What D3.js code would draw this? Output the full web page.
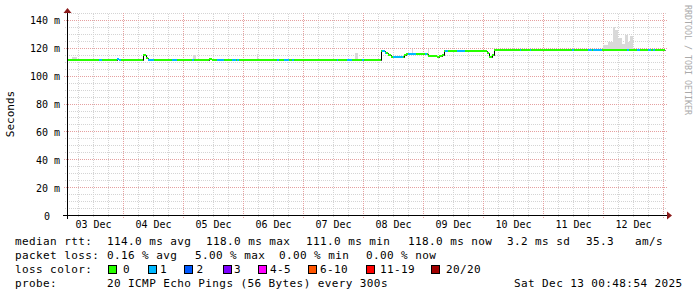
<!DOCTYPE html>
<meta charset="utf-8">
<head>
<script src="https://cdn.jsdelivr.net/npm/d3@7"></script>
<style>
    body { margin: 0; background: #fff; }
    text { font-family: "DejaVu Sans Mono", monospace; fill: #000; }
    .grid-minor { stroke: #d4d4d4; stroke-dasharray: 1,1; }
    .grid-major { stroke: #e5a0a0; stroke-dasharray: 1,1; }
    .axis text { font-size: 10px; font-family: "DejaVu Sans Mono", monospace; }
    .legend text { font-size: 11px; letter-spacing: 0.4px; }
</style>
</head>
<body>
<svg width="697" height="297"></svg>
<script>
// time in hours since 03 Dec 2025 00:00
var timeStart = 1.6, timeEnd = 240.8;

// median rtt (ms) as steps: value i holds from medianTimes[i] to medianTimes[i+1]
var medianTimes = [1.6, 21.6, 22.4, 32, 33.2, 34, 58.4, 59.6, 127.2, 128.8, 130, 131.2, 136.4, 137.2,
                   146, 149.6, 150.4, 151.6, 152.4, 169.2, 169.6, 170.4, 171.6, 172.4, 240.8];
var medianValues = [111, 112, 111, 114.5, 113, 111, 112, 111, 118, 116.3, 115, 113.4, 114.5, 115.6,
                    113.8, 113.2, 113.8, 115, 117.7, 118, 116.3, 113.4, 115, 118.2];

// periods with lost pings (count of lost pings out of 20)
var lossStart = [14.4, 21.6, 34, 43.6, 51.6, 61.6, 67.6, 69.6, 85.6, 88.4, 91.6, 109.6, 113.6, 119.6,
                 127.6, 132, 138, 144.8, 152.8, 157.6, 182.8, 186.8, 203.6, 210, 212, 225.6, 229.6, 234, 236];
var lossEnd   = [15.6, 23.2, 36.4, 45.6, 52.4, 64.4, 69.2, 70.4, 86.4, 90.4, 92.4, 110, 115.6, 120.4,
                 129.2, 136, 141.2, 145.6, 154, 160.8, 183.2, 187.2, 204.4, 211.6, 215.6, 226.4, 230.8, 235.2, 236.8];
var lossCount = [1, 1, 1, 1, 1, 1, 1, 1, 1, 1, 1, 1, 1, 1, 1, 1, 1, 1, 1, 1, 1, 1, 1, 1, 1, 1, 1, 1, 1];

// smoke (spread of the 20 pings), ms
var smokeStart = [3.6, 14.8, 52, 77.6, 116.8, 139.6, 146, 216, 218, 220, 220.8, 222, 223.6, 224.8, 226, 226.8];
var smokeEnd   = [5.6, 15.6, 53.2, 78, 118, 140, 146.4, 218, 220, 220.8, 222, 223.6, 224.8, 226, 226.8, 228];
var smokeLow   = [111, 111, 111, 111, 111, 116, 114, 118, 118, 118, 118, 118, 118, 118, 118, 118];
var smokeHigh  = [113.4, 112.2, 114.5, 115.5, 116.5, 119.5, 119, 122, 124, 135, 133, 127, 122.5, 129, 124, 128.5];

var yTicks = [0, 20, 40, 60, 80, 100, 120, 140];
var yTickLabels = ["0", "20 m", "40 m", "60 m", "80 m", "100 m", "120 m", "140 m"];
var dayNoon = [12, 36, 60, 84, 108, 132, 156, 180, 204, 228];
var dayLabels = ["03 Dec", "04 Dec", "05 Dec", "06 Dec", "07 Dec", "08 Dec", "09 Dec", "10 Dec", "11 Dec", "12 Dec"];

var lossNames = ["0", "1", "2", "3", "4-5", "6-10", "11-19", "20/20"];
var lossColors = ["#26ff00", "#00b8ff", "#0059ff", "#7e00ff", "#ff00ff", "#ff5500", "#ff0000", "#a10000"];

var rttText = ["median rtt:", "114.0 ms avg", "118.0 ms max", "111.0 ms min", "118.0 ms now", "3.2 ms sd", "35.3", "am/s"];
var lossText = ["packet loss:", "0.16 % avg", "5.00 % max", "0.00 % min", "0.00 % now"];
var probeText = ["probe:", "20 ICMP Echo Pings (56 Bytes) every 300s", "Sat Dec 13 00:48:54 2025"];

var svg = d3.select("svg");
var plotLeft = 67, plotRight = 665, plotTop = 13, plotBottom = 215;

var x = d3.scaleLinear().domain([timeStart, timeEnd]).range([plotLeft, plotRight]);
var y = d3.scaleLinear().domain([0, 145]).range([plotBottom, plotTop]);

function px(v) { return Math.round(v) + 0.5; }

// grid
var g = svg.append("g");
d3.range(5, 146, 5).filter(function(v) { return v % 20 != 0; }).forEach(function(v) {
    g.append("line").attr("class", "grid-minor")
        .attr("x1", plotLeft - 2).attr("x2", plotRight + 2).attr("y1", px(y(v))).attr("y2", px(y(v)));
});
d3.range(6, timeEnd, 6).filter(function(h) { return h % 24 != 0 && h > timeStart; }).forEach(function(h) {
    g.append("line").attr("class", "grid-minor")
        .attr("x1", px(x(h))).attr("x2", px(x(h))).attr("y1", plotBottom + 2).attr("y2", plotTop);
});
yTicks.slice(1).forEach(function(v) {
    g.append("line").attr("class", "grid-major")
        .attr("x1", plotLeft - 3).attr("x2", plotRight + 2).attr("y1", px(y(v))).attr("y2", px(y(v)));
});
d3.range(24, timeEnd + 1, 24).forEach(function(h) {
    g.append("line").attr("class", "grid-major")
        .attr("x1", px(x(h))).attr("x2", px(x(h))).attr("y1", plotBottom + 3).attr("y2", plotTop);
});

// smoke
svg.append("g").selectAll("rect")
    .data(smokeStart)
    .enter().append("rect")
    .attr("x", function(d) { return Math.round(x(d)); })
    .attr("width", function(d, i) { return Math.max(1, Math.round(x(smokeEnd[i])) - Math.round(x(d))); })
    .attr("y", function(d, i) { return Math.round(y(smokeHigh[i])); })
    .attr("height", function(d, i) { return Math.round(y(smokeLow[i])) - Math.round(y(smokeHigh[i])); })
    .attr("fill", "#d9d9d9");

// median: black step line, then coloured horizontal pieces by loss
var steps = medianValues.map(function(v, i) { return [medianTimes[i], v]; });
steps.push([timeEnd, medianValues[medianValues.length - 1]]);
svg.append("path")
    .attr("d", d3.line().x(function(d) { return px(x(d[0])); }).y(function(d) { return px(y(d[1])); })
        .curve(d3.curveStepAfter)(steps))
    .attr("fill", "none").attr("stroke", "#000").attr("stroke-width", 1);

function lossIndex(n) {
    if (n <= 3) return n;
    if (n <= 5) return 4;
    if (n <= 10) return 5;
    if (n <= 19) return 6;
    return 7;
}

var pieces = [];
medianValues.forEach(function(v, i) {
    pieces.push({t0: medianTimes[i], t1: medianTimes[i + 1], v: v, c: lossColors[0]});
});
lossStart.forEach(function(s, j) {
    medianValues.forEach(function(v, i) {
        var a = Math.max(s, medianTimes[i]), b = Math.min(lossEnd[j], medianTimes[i + 1]);
        if (b > a) pieces.push({t0: a, t1: b, v: v, c: lossColors[lossIndex(lossCount[j])]});
    });
});
svg.append("g").selectAll("line")
    .data(pieces)
    .enter().append("line")
    .attr("x1", function(d) { return Math.round(x(d.t0)); })
    .attr("x2", function(d) { return Math.max(Math.round(x(d.t1)), Math.round(x(d.t0)) + 1); })
    .attr("y1", function(d) { return Math.round(y(d.v)); })
    .attr("y2", function(d) { return Math.round(y(d.v)); })
    .attr("stroke", function(d) { return d.c; })
    .attr("stroke-width", 2)
    .attr("shape-rendering", "crispEdges");

// axes
var yAxis = svg.append("g")
    .attr("class", "axis")
    .attr("transform", "translate(" + plotLeft + ",0)")
    .call(d3.axisLeft(y).tickValues(yTicks).tickSize(0).tickPadding(7)
        .tickFormat(function(d, i) { return yTickLabels[i]; }));
yAxis.select(".domain").remove();
yAxis.selectAll("text").attr("dy", "0.4em").attr("fill", "#000")
    .filter(function(d) { return d === 0; }).attr("dx", -10);

var xAxis = svg.append("g")
    .attr("class", "axis")
    .attr("transform", "translate(0," + plotBottom + ")")
    .call(d3.axisBottom(x).tickValues(dayNoon).tickSize(0).tickPadding(6)
        .tickFormat(function(d, i) { return dayLabels[i]; }));
xAxis.select(".domain").remove();
xAxis.selectAll("text").attr("fill", "#000");

svg.append("line").attr("x1", 63).attr("x2", 669).attr("y1", plotBottom + 0.5).attr("y2", plotBottom + 0.5)
    .attr("stroke", "#000");
svg.append("line").attr("x1", plotLeft + 0.5).attr("x2", plotLeft + 0.5).attr("y1", plotBottom + 4).attr("y2", 11)
    .attr("stroke", "#000");
svg.append("path").attr("d", "M667,211.5L672,215.5L667,219.5Z").attr("fill", "#8b1a1a");
svg.append("path").attr("d", "M63.5,13L67.5,8L71.5,13Z").attr("fill", "#8b1a1a");

svg.append("text")
    .attr("transform", "translate(14,114) rotate(-90)")
    .attr("text-anchor", "middle")
    .style("font-size", "11px")
    .text("Seconds");

svg.append("text")
    .attr("transform", "translate(685,5) rotate(90)")
    .style("font-size", "8.3px")
    .style("fill", "#aaaaaa")
    .text("RRDTOOL / TOBI OETIKER");

// legend
var legend = svg.append("g").attr("class", "legend");
var rttX = [15, 107, 206, 306, 408, 507, 586, 635];
rttText.forEach(function(t, i) {
    legend.append("text").attr("x", rttX[i]).attr("y", 245).text(t);
});
var lossX = [15, 107, 195, 279, 366];
lossText.forEach(function(t, i) {
    legend.append("text").attr("x", lossX[i]).attr("y", 259).text(t);
});
legend.append("text").attr("x", 15).attr("y", 273).text("loss color:");
var swatchX = [108, 148, 184, 223, 258, 307.5, 365.5, 430.5];
var swatchLabelX = [123, 160, 196.5, 234, 270, 320, 380, 446];
lossNames.forEach(function(n, i) {
    legend.append("rect")
        .attr("x", Math.round(swatchX[i]) + 0.5).attr("y", 265.5)
        .attr("width", 8).attr("height", 8)
        .attr("fill", lossColors[i]).attr("stroke", "#000");
    legend.append("text").attr("x", swatchLabelX[i]).attr("y", 273).text(n);
});
var probeX = [15, 107, 514];
probeText.forEach(function(t, i) {
    legend.append("text").attr("x", probeX[i]).attr("y", 287).text(t);
});
</script>
</body>
